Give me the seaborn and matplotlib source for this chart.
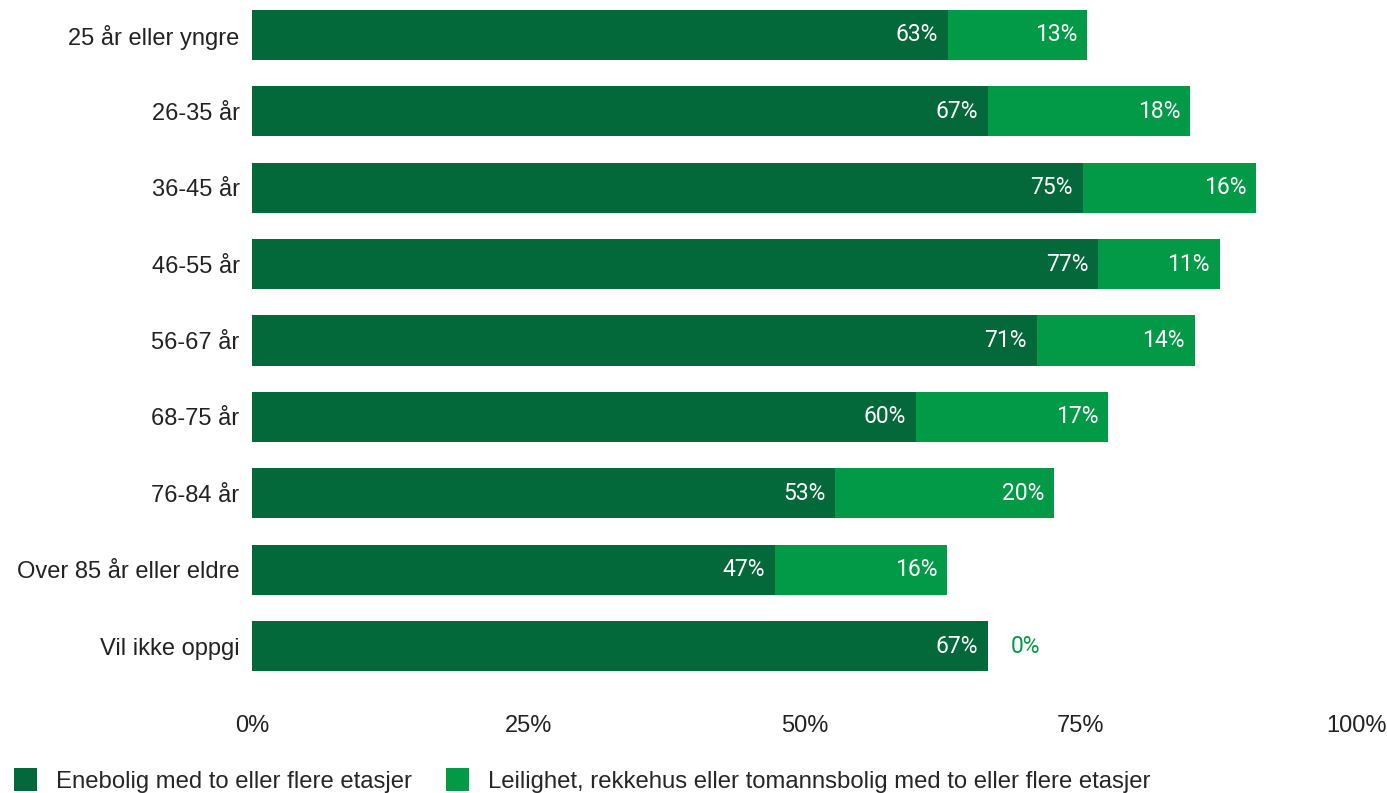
import matplotlib
matplotlib.use("Agg")
import matplotlib.pyplot as plt
import seaborn as sns
import pandas as pd
from matplotlib.patches import Patch

categories = ["25 år eller yngre", "26-35 år", "36-45 år", "46-55 år", "56-67 år",
              "68-75 år", "76-84 år", "Over 85 år eller eldre", "Vil ikke oppgi"]
enebolig = [63.0, 66.6, 75.2, 76.6, 71.0, 60.1, 52.8, 47.3, 66.6]
leilighet = [12.6, 18.3, 15.7, 11.0, 14.3, 17.4, 19.8, 15.6, 0.0]
series_names = ["Enebolig med to eller flere etasjer",
                "Leilighet, rekkehus eller tomannsbolig med to eller flere etasjer"]
xticks = [0, 25, 50, 75, 100]

DARK = "#03683A"
LIGHT = "#029A46"

sns.set_theme(style="white")
plt.rcParams['font.family'] = ['Liberation Sans', 'DejaVu Sans']

df = pd.DataFrame({"cat": categories, "dark": enebolig, "light": leilighet})
df["total"] = df["dark"] + df["light"]

W, H = 1387, 793
fig = plt.figure(figsize=(W / 100, H / 100), dpi=100)
top_px, bot_px = -3.2, 684.2
ax = fig.add_axes([252 / W, 1 - bot_px / H, 1105 / W, (bot_px - top_px) / H])

sns.barplot(data=df, y="cat", x="total", color=LIGHT, saturation=1, width=0.655,
            orient="h", ax=ax, linewidth=0)
sns.barplot(data=df, y="cat", x="dark", color=DARK, saturation=1, width=0.655,
            orient="h", ax=ax, linewidth=0)

ax.set_xlim(0, 100)
ax.set_ylim(len(categories) - 0.5, -0.5)
ax.set_xticks(xticks)
ax.set_xticklabels([f"{t}%" for t in xticks], fontsize=17, color="#222222")
ax.tick_params(axis="x", length=0, pad=22)
ax.tick_params(axis="y", length=0, pad=9, labelsize=17, labelcolor="#222222")
ax.set_xlabel("")
ax.set_ylabel("")
for s in ax.spines.values():
    s.set_visible(False)

lab_font = dict(family=["Roboto", "DejaVu Sans"], fontsize=16.5)
for i, (d, l) in enumerate(zip(enebolig, leilighet)):
    ax.text(d - 0.9, i, f"{d:.0f}%", ha="right", va="center", color="white", **lab_font)
    if l > 0:
        ax.text(d + l - 0.9, i, f"{l:.0f}%", ha="right", va="center", color="white", **lab_font)
    else:
        ax.text(d + 2.1, i, f"{l:.0f}%", ha="left", va="center", color=LIGHT, **lab_font)

handles = [Patch(facecolor=DARK, edgecolor="none"), Patch(facecolor=LIGHT, edgecolor="none")]
fig.legend(handles, series_names, loc="lower left", bbox_to_anchor=(-0.002, -0.021),
           ncol=2, frameon=False, fontsize=17.2, handlelength=0.95, handleheight=1.1,
           handletextpad=0.8, columnspacing=1.45, borderaxespad=0.3)

fig.savefig("out.png", dpi=100)
